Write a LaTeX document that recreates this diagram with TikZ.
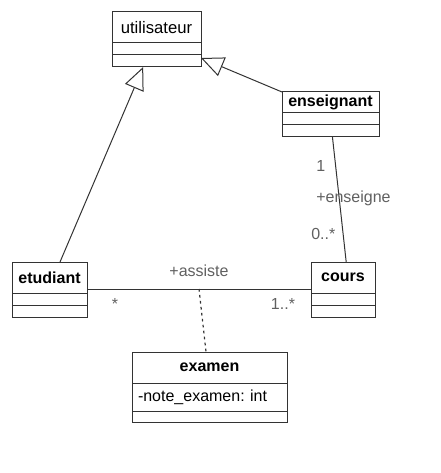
\documentclass[tikz,border=0pt]{standalone}
\usepackage{fontspec}
\setmainfont{Liberation Sans}
\usetikzlibrary{positioning, calc, arrows.meta}
\definecolor{linegray}{HTML}{333333}
\definecolor{labelgray}{HTML}{606060}
\frenchspacing

\begin{document}
\begin{tikzpicture}[x=0.75pt, y=-0.75pt,
    head/.style={draw=linegray, line width=0.75pt, inner sep=0pt, outer sep=0pt,
      font=\fontsize{12}{14}\selectfont\bfseries},
    row/.style={draw=linegray, line width=0.75pt, inner sep=0pt, outer sep=0pt,
      minimum height=9pt},
    lbl/.style={text=labelgray, inner sep=0pt, font=\fontsize{12}{14}\selectfont},
    inh/.style={draw=linegray, line width=0.75pt,
      -{Triangle[open, length=17pt, width=15pt, fill=white]}},
    assoc/.style={draw=linegray, line width=0.75pt},
    dotline/.style={draw=linegray, line width=0.9pt, dash pattern=on 2pt off 2.5pt}]
  \useasboundingbox (0,0) rectangle (440,473);

  % utilisateur
  \node[head, minimum width=66.75pt, minimum height=23.25pt, font=\fontsize{12.5}{14}\selectfont] (U) at (156.5,27.5) {utilisateur};
  \node[row, minimum width=66.75pt, below=0pt of U] (U1) {};
  \node[row, minimum width=66.75pt, below=0pt of U1] (U2) {};

  % enseignant
  \node[head, minimum width=72.75pt, minimum height=15.75pt] (N) at (330.5,102.5) {enseignant};
  \node[row, minimum width=72.75pt, below=0pt of N] (N1) {};
  \node[row, minimum width=72.75pt, below=0pt of N1] (N2) {};

  % etudiant
  \node[head, minimum width=56.25pt, minimum height=23.25pt] (E) at (49.5,277.5) {etudiant};
  \node[row, minimum width=56.25pt, below=0pt of E] (E1) {};
  \node[row, minimum width=56.25pt, below=0pt of E1] (E2) {};

  % cours
  \node[head, minimum width=48pt, minimum height=23.25pt] (C) at (343,277.5) {cours};
  \node[row, minimum width=48pt, below=0pt of C] (C1) {};
  \node[row, minimum width=48pt, below=0pt of C1] (C2) {};

  % examen
  \node[head, minimum width=116.25pt, minimum height=23.25pt] (X) at (209.5,367.5) {examen};
  \node[row, minimum height=21pt, text width=107.25pt, inner xsep=4.5pt, align=left,
    font=\fontsize{12}{14}\selectfont, below=0pt of X] (X1) {-note\_examen: int};
  \node[row, minimum width=116.25pt, minimum height=8.25pt, below=0pt of X1] (X2) {};

  % heritage
  \draw[inh] ($(E.north west)!0.64!(E.north east)$) -- ($(U2.south west)!0.35!(U2.south east)$);
  \draw[inh] (N.north west) -- ($(U2.north east)+(0,3)$);

  % associations
  \draw[assoc] ($(N2.south west)!0.52!(N2.south east)$) -- ($(C.north west)!0.55!(C.north east)$);
  \draw[assoc] ([yshift=3pt]E.south east) -- coordinate[midway] (M) ([yshift=3pt]C.south west);
  \draw[dotline] (M) -- ([xshift=-2.6pt]X.north);

  \node[lbl, anchor=base] at ($(M)+(0,-13)$) {+assiste};
  \node[lbl, anchor=base] at (115,309) {*};
  \node[lbl, anchor=base] at (283,309) {1..*};
  \node[lbl, anchor=base west] at (316,172) {1};
  \node[lbl, anchor=base west] at (316,203) {+enseigne};
  \node[lbl, anchor=base west] at (311,240) {0..*};
\end{tikzpicture}
\end{document}
